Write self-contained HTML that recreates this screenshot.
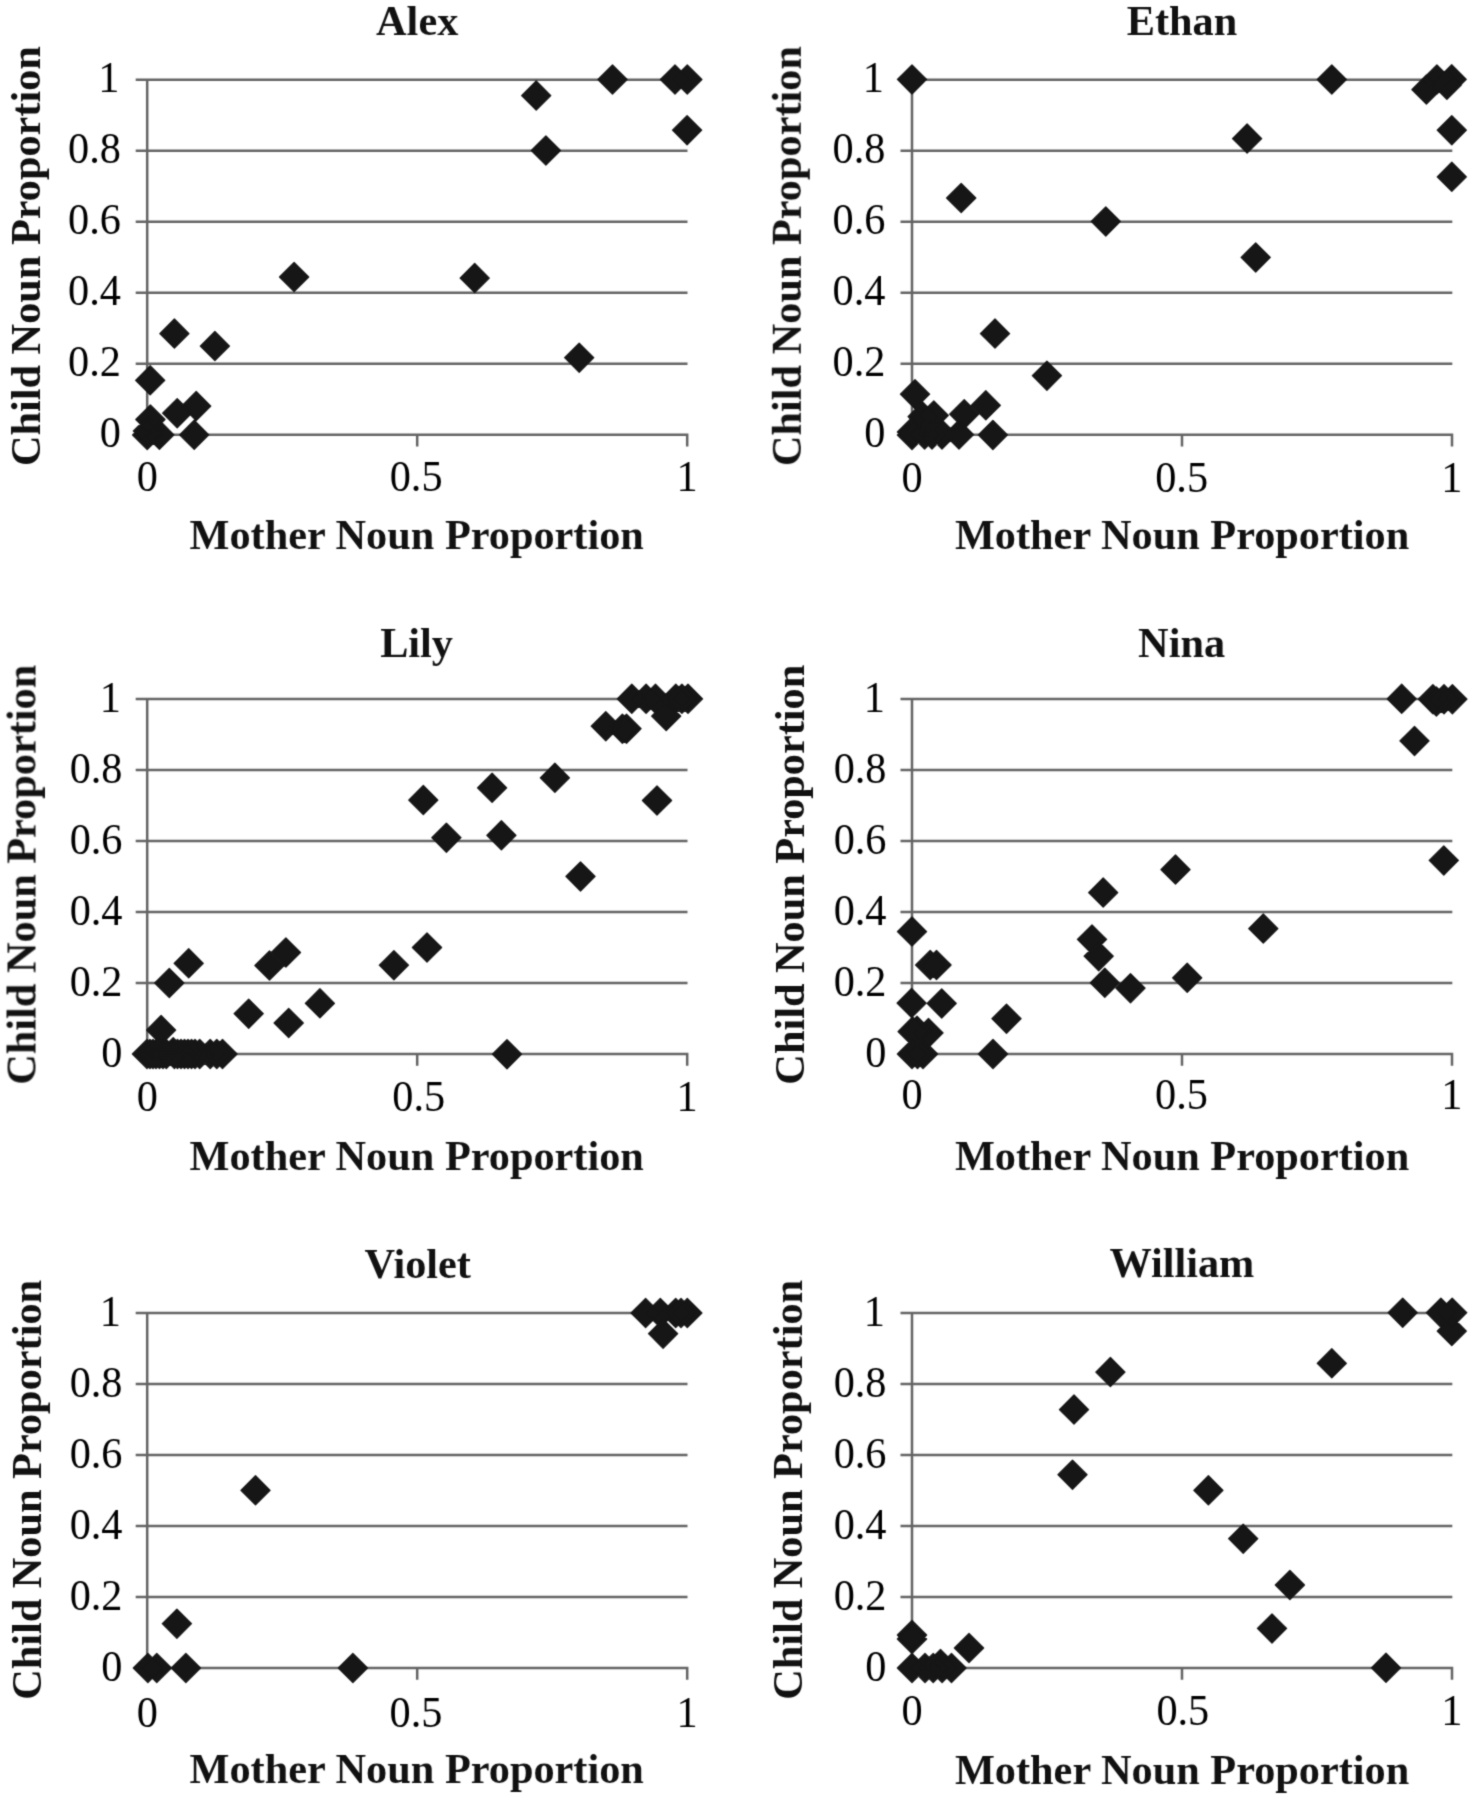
<!DOCTYPE html><html><head><meta charset="utf-8"><title>Noun proportion scatter plots</title>
<style>html,body{margin:0;padding:0;background:#fff;}svg{display:block;}.b{font-family:"Liberation Serif",serif;font-weight:bold;fill:#111;font-size:42.3px;}.r{font-family:"Liberation Serif",serif;fill:#000;font-size:45px;}</style></head><body>
<svg width="1474" height="1800" viewBox="0 0 1474 1800">
<defs><filter id="soft" filterUnits="userSpaceOnUse" x="0" y="0" width="1474" height="1800" color-interpolation-filters="sRGB"><feConvolveMatrix order="3" kernelMatrix="0.02756 0.11089 0.02756 0.11089 0.44622 0.11089 0.02756 0.11089 0.02756" edgeMode="duplicate"/></filter></defs>
<rect width="1474" height="1800" fill="#fff"/>
<g filter="url(#soft)">
<path d="M135.7 363.8H687.5M135.7 292.8H687.5M135.7 221.8H687.5M135.7 150.8H687.5M135.7 79.8H687.5M135.7 434.8H688.45M147.2 78.55V434.8M147.2 433.55V446.6M417.2 433.55V446.6M687.2 433.55V446.6" stroke="#646464" stroke-width="2.5" fill="none" stroke-linecap="butt"/>
<path d="M147.2 420.4L161.8 435L147.2 449.6L132.6 435ZM150.4 404.9L165 419.5L150.4 434.1L135.8 419.5ZM159.4 420.2L174 434.8L159.4 449.4L144.8 434.8ZM148 416.4L162.6 431L148 445.6L133.4 431ZM150.2 365.7L164.8 380.3L150.2 394.9L135.6 380.3ZM174.4 319L189 333.6L174.4 348.2L159.8 333.6ZM177.2 398.6L191.8 413.2L177.2 427.8L162.6 413.2ZM196.2 391.5L210.8 406.1L196.2 420.7L181.6 406.1ZM194.2 420.2L208.8 434.8L194.2 449.4L179.6 434.8ZM214.9 331.5L229.5 346.1L214.9 360.7L200.3 346.1ZM294.1 262.4L308.7 277L294.1 291.6L279.5 277ZM474.7 263.5L489.3 278.1L474.7 292.7L460.1 278.1ZM579.2 343.1L593.8 357.7L579.2 372.3L564.6 357.7ZM536.2 81L550.8 95.6L536.2 110.2L521.6 95.6ZM545.9 135.9L560.5 150.5L545.9 165.1L531.3 150.5ZM612.5 64.9L627.1 79.5L612.5 94.1L597.9 79.5ZM675 64.9L689.6 79.5L675 94.1L660.4 79.5ZM687.3 64.9L701.9 79.5L687.3 94.1L672.7 79.5ZM687.1 115.6L701.7 130.2L687.1 144.8L672.5 130.2Z" fill="#161616" stroke="#161616" stroke-width="1.2" stroke-linejoin="round"/>
<text class="b" x="417.2" y="35.4" text-anchor="middle">Alex</text>
<text class="r" transform="translate(120.9 447.4) scale(0.94 1)" text-anchor="end">0</text>
<text class="r" transform="translate(120.9 376.4) scale(0.94 1)" text-anchor="end">0.2</text>
<text class="r" transform="translate(120.9 305.4) scale(0.94 1)" text-anchor="end">0.4</text>
<text class="r" transform="translate(120.9 234.4) scale(0.94 1)" text-anchor="end">0.6</text>
<text class="r" transform="translate(120.9 163.4) scale(0.94 1)" text-anchor="end">0.8</text>
<text class="r" transform="translate(119.4 92.4) scale(0.94 1)" text-anchor="end">1</text>
<text class="r" transform="translate(147.2 490.5) scale(0.94 1)" text-anchor="middle">0</text>
<text class="r" transform="translate(416.1 490.5) scale(0.94 1)" text-anchor="middle">0.5</text>
<text class="r" transform="translate(687 490.5) scale(0.94 1)" text-anchor="middle">1</text>
<text class="b" x="416.7" y="548.5" text-anchor="middle">Mother Noun Proportion</text>
<text class="b" transform="translate(39.5 256.1) rotate(-90)" text-anchor="middle">Child Noun Proportion</text>
<path d="M900.5 363.8H1452.3M900.5 292.8H1452.3M900.5 221.8H1452.3M900.5 150.8H1452.3M900.5 79.8H1452.3M900.5 434.8H1453.25M912 78.55V434.8M912 433.55V446.6M1182 433.55V446.6M1452 433.55V446.6" stroke="#646464" stroke-width="2.5" fill="none" stroke-linecap="butt"/>
<path d="M912 420.4L926.6 435L912 449.6L897.4 435ZM912 417.4L926.6 432L912 446.6L897.4 432ZM915 379.6L929.6 394.2L915 408.8L900.4 394.2ZM922.6 402L937.2 416.6L922.6 431.2L908 416.6ZM924.6 419.9L939.2 434.5L924.6 449.1L910 434.5ZM932 419.9L946.6 434.5L932 449.1L917.4 434.5ZM942 419.9L956.6 434.5L942 449.1L927.4 434.5ZM933.8 400.8L948.4 415.4L933.8 430L919.2 415.4ZM959 420L973.6 434.6L959 449.2L944.4 434.6ZM964.2 399.6L978.8 414.2L964.2 428.8L949.6 414.2ZM985.8 390.7L1000.4 405.3L985.8 419.9L971.2 405.3ZM992.9 420.3L1007.5 434.9L992.9 449.5L978.3 434.9ZM995 319L1009.6 333.6L995 348.2L980.4 333.6ZM1046.9 361.1L1061.5 375.7L1046.9 390.3L1032.3 375.7ZM912 64.8L926.6 79.4L912 94L897.4 79.4ZM961.2 183.4L975.8 198L961.2 212.6L946.6 198ZM1105.8 206.8L1120.4 221.4L1105.8 236L1091.2 221.4ZM1247.1 124L1261.7 138.6L1247.1 153.2L1232.5 138.6ZM1331.8 64.9L1346.4 79.5L1331.8 94.1L1317.2 79.5ZM1426.4 75L1441 89.6L1426.4 104.2L1411.8 89.6ZM1436.9 64.8L1451.5 79.4L1436.9 94L1422.3 79.4ZM1451.7 64.7L1466.3 79.3L1451.7 93.9L1437.1 79.3ZM1446.9 70.2L1461.5 84.8L1446.9 99.4L1432.3 84.8ZM1451.8 115.6L1466.4 130.2L1451.8 144.8L1437.2 130.2ZM1451.8 162.2L1466.4 176.8L1451.8 191.4L1437.2 176.8ZM1255.7 242.8L1270.3 257.4L1255.7 272L1241.1 257.4Z" fill="#161616" stroke="#161616" stroke-width="1.2" stroke-linejoin="round"/>
<text class="b" x="1182" y="35.3" text-anchor="middle">Ethan</text>
<text class="r" transform="translate(885.4 447.4) scale(0.94 1)" text-anchor="end">0</text>
<text class="r" transform="translate(885.4 376.4) scale(0.94 1)" text-anchor="end">0.2</text>
<text class="r" transform="translate(885.4 305.4) scale(0.94 1)" text-anchor="end">0.4</text>
<text class="r" transform="translate(885.4 234.4) scale(0.94 1)" text-anchor="end">0.6</text>
<text class="r" transform="translate(885.4 163.4) scale(0.94 1)" text-anchor="end">0.8</text>
<text class="r" transform="translate(883.9 92.4) scale(0.94 1)" text-anchor="end">1</text>
<text class="r" transform="translate(912 491.5) scale(0.94 1)" text-anchor="middle">0</text>
<text class="r" transform="translate(1181.6 491.5) scale(0.94 1)" text-anchor="middle">0.5</text>
<text class="r" transform="translate(1451.8 491.5) scale(0.94 1)" text-anchor="middle">1</text>
<text class="b" x="1182.1" y="548.5" text-anchor="middle">Mother Noun Proportion</text>
<text class="b" transform="translate(800.8 256.1) rotate(-90)" text-anchor="middle">Child Noun Proportion</text>
<path d="M135.7 983H687.5M135.7 912H687.5M135.7 841H687.5M135.7 770H687.5M135.7 699H687.5M135.7 1054H688.45M147.2 697.75V1054M147.2 1052.75V1065.8M417.2 1052.75V1065.8M687.2 1052.75V1065.8" stroke="#646464" stroke-width="2.5" fill="none" stroke-linecap="butt"/>
<path d="M147 1039.4L161.6 1054L147 1068.6L132.4 1054ZM150 1039.4L164.6 1054L150 1068.6L135.4 1054ZM153 1039.4L167.6 1054L153 1068.6L138.4 1054ZM156 1039.4L170.6 1054L156 1068.6L141.4 1054ZM159.5 1039.4L174.1 1054L159.5 1068.6L144.9 1054ZM163 1039.4L177.6 1054L163 1068.6L148.4 1054ZM166.3 1039.4L180.9 1054L166.3 1068.6L151.7 1054ZM173.2 1037.6L187.8 1052.2L173.2 1066.8L158.6 1052.2ZM174.4 1039.4L189 1054L174.4 1068.6L159.8 1054ZM177.5 1039.4L192.1 1054L177.5 1068.6L162.9 1054ZM181 1039.4L195.6 1054L181 1068.6L166.4 1054ZM184.5 1039.4L199.1 1054L184.5 1068.6L169.9 1054ZM188 1039.4L202.6 1054L188 1068.6L173.4 1054ZM191.5 1039.4L206.1 1054L191.5 1068.6L176.9 1054ZM195 1039.4L209.6 1054L195 1068.6L180.4 1054ZM199.7 1039.4L214.3 1054L199.7 1068.6L185.1 1054ZM210.2 1039.4L224.8 1054L210.2 1068.6L195.6 1054ZM216.8 1039.4L231.4 1054L216.8 1068.6L202.2 1054ZM222.5 1039.4L237.1 1054L222.5 1068.6L207.9 1054ZM161.1 1015.5L175.7 1030.1L161.1 1044.7L146.5 1030.1ZM169.3 968.4L183.9 983L169.3 997.6L154.7 983ZM188.7 948.7L203.3 963.3L188.7 977.9L174.1 963.3ZM248.7 999.1L263.3 1013.7L248.7 1028.3L234.1 1013.7ZM288.7 1008.4L303.3 1023L288.7 1037.6L274.1 1023ZM319.9 988.7L334.5 1003.3L319.9 1017.9L305.3 1003.3ZM269.5 950.9L284.1 965.5L269.5 980.1L254.9 965.5ZM285.9 937.9L300.5 952.5L285.9 967.1L271.3 952.5ZM393.9 950.6L408.5 965.2L393.9 979.8L379.3 965.2ZM427 932.9L441.6 947.5L427 962.1L412.4 947.5ZM507 1039.6L521.6 1054.2L507 1068.8L492.4 1054.2ZM423.3 785.5L437.9 800.1L423.3 814.7L408.7 800.1ZM446.4 823.1L461 837.7L446.4 852.3L431.8 837.7ZM492.1 773.2L506.7 787.8L492.1 802.4L477.5 787.8ZM501.4 820.7L516 835.3L501.4 849.9L486.8 835.3ZM554.9 763.2L569.5 777.8L554.9 792.4L540.3 777.8ZM580.5 861.8L595.1 876.4L580.5 891L565.9 876.4ZM605.8 711.6L620.4 726.2L605.8 740.8L591.2 726.2ZM622.4 714.1L637 728.7L622.4 743.3L607.8 728.7ZM626.5 714.1L641.1 728.7L626.5 743.3L611.9 728.7ZM657 785.9L671.6 800.5L657 815.1L642.4 800.5ZM666.2 701.5L680.8 716.1L666.2 730.7L651.6 716.1ZM631.8 684.2L646.4 698.8L631.8 713.4L617.2 698.8ZM646.1 684.2L660.7 698.8L646.1 713.4L631.5 698.8ZM655.5 684.2L670.1 698.8L655.5 713.4L640.9 698.8ZM675.8 684.2L690.4 698.8L675.8 713.4L661.2 698.8ZM681.9 684.2L696.5 698.8L681.9 713.4L667.3 698.8ZM688 684.2L702.6 698.8L688 713.4L673.4 698.8Z" fill="#161616" stroke="#161616" stroke-width="1.2" stroke-linejoin="round"/>
<text class="b" x="416.6" y="656.8" text-anchor="middle">Lily</text>
<text class="r" transform="translate(122.5 1067.2) scale(0.94 1)" text-anchor="end">0</text>
<text class="r" transform="translate(122.5 996.2) scale(0.94 1)" text-anchor="end">0.2</text>
<text class="r" transform="translate(122.5 925.2) scale(0.94 1)" text-anchor="end">0.4</text>
<text class="r" transform="translate(122.5 854.2) scale(0.94 1)" text-anchor="end">0.6</text>
<text class="r" transform="translate(122.5 783.2) scale(0.94 1)" text-anchor="end">0.8</text>
<text class="r" transform="translate(121 712.2) scale(0.94 1)" text-anchor="end">1</text>
<text class="r" transform="translate(147.2 1110.5) scale(0.94 1)" text-anchor="middle">0</text>
<text class="r" transform="translate(418.7 1110.5) scale(0.94 1)" text-anchor="middle">0.5</text>
<text class="r" transform="translate(687 1110.5) scale(0.94 1)" text-anchor="middle">1</text>
<text class="b" x="416.7" y="1169.5" text-anchor="middle">Mother Noun Proportion</text>
<text class="b" transform="translate(35.5 874.7) rotate(-90)" text-anchor="middle">Child Noun Proportion</text>
<path d="M900.5 983H1452.3M900.5 912H1452.3M900.5 841H1452.3M900.5 770H1452.3M900.5 699H1452.3M900.5 1054H1453.25M912 697.75V1054M912 1052.75V1065.8M1182 1052.75V1065.8M1452 1052.75V1065.8" stroke="#646464" stroke-width="2.5" fill="none" stroke-linecap="butt"/>
<path d="M912 917L926.6 931.6L912 946.2L897.4 931.6ZM930.2 950.4L944.8 965L930.2 979.6L915.6 965ZM936.5 950.4L951.1 965L936.5 979.6L921.9 965ZM911.6 988.5L926.2 1003.1L911.6 1017.7L897 1003.1ZM941.7 988.8L956.3 1003.4L941.7 1018L927.1 1003.4ZM1006.5 1004.1L1021.1 1018.7L1006.5 1033.3L991.9 1018.7ZM993 1039.4L1007.6 1054L993 1068.6L978.4 1054ZM912 1039.4L926.6 1054L912 1068.6L897.4 1054ZM917.5 1039.4L932.1 1054L917.5 1068.6L902.9 1054ZM923 1039.4L937.6 1054L923 1068.6L908.4 1054ZM912.6 1017L927.2 1031.6L912.6 1046.2L898 1031.6ZM917 1016.2L931.6 1030.8L917 1045.4L902.4 1030.8ZM928.5 1018.3L943.1 1032.9L928.5 1047.5L913.9 1032.9ZM1175.5 855L1190.1 869.6L1175.5 884.2L1160.9 869.6ZM1103.2 878L1117.8 892.6L1103.2 907.2L1088.6 892.6ZM1263.3 914L1277.9 928.6L1263.3 943.2L1248.7 928.6ZM1092 924.8L1106.6 939.4L1092 954L1077.4 939.4ZM1098.7 941.6L1113.3 956.2L1098.7 970.8L1084.1 956.2ZM1104.8 968.2L1119.4 982.8L1104.8 997.4L1090.2 982.8ZM1130.5 973.6L1145.1 988.2L1130.5 1002.8L1115.9 988.2ZM1187.2 963.2L1201.8 977.8L1187.2 992.4L1172.6 977.8ZM1401.7 684.2L1416.3 698.8L1401.7 713.4L1387.1 698.8ZM1432.9 684.6L1447.5 699.2L1432.9 713.8L1418.3 699.2ZM1436.4 686.9L1451 701.5L1436.4 716.1L1421.8 701.5ZM1444 684.6L1458.6 699.2L1444 713.8L1429.4 699.2ZM1452.4 684.6L1467 699.2L1452.4 713.8L1437.8 699.2ZM1414.5 726.3L1429.1 740.9L1414.5 755.5L1399.9 740.9ZM1443.8 845.8L1458.4 860.4L1443.8 875L1429.2 860.4Z" fill="#161616" stroke="#161616" stroke-width="1.2" stroke-linejoin="round"/>
<text class="b" x="1181.6" y="656.7" text-anchor="middle">Nina</text>
<text class="r" transform="translate(886.5 1067.2) scale(0.94 1)" text-anchor="end">0</text>
<text class="r" transform="translate(886.5 996.2) scale(0.94 1)" text-anchor="end">0.2</text>
<text class="r" transform="translate(886.5 925.2) scale(0.94 1)" text-anchor="end">0.4</text>
<text class="r" transform="translate(886.5 854.2) scale(0.94 1)" text-anchor="end">0.6</text>
<text class="r" transform="translate(886.5 783.2) scale(0.94 1)" text-anchor="end">0.8</text>
<text class="r" transform="translate(885 712.2) scale(0.94 1)" text-anchor="end">1</text>
<text class="r" transform="translate(912 1108.7) scale(0.94 1)" text-anchor="middle">0</text>
<text class="r" transform="translate(1181.5 1108.7) scale(0.94 1)" text-anchor="middle">0.5</text>
<text class="r" transform="translate(1451.8 1108.7) scale(0.94 1)" text-anchor="middle">1</text>
<text class="b" x="1182.1" y="1169.5" text-anchor="middle">Mother Noun Proportion</text>
<text class="b" transform="translate(803.6 874.7) rotate(-90)" text-anchor="middle">Child Noun Proportion</text>
<path d="M135.7 1597H687.5M135.7 1526H687.5M135.7 1455H687.5M135.7 1384H687.5M135.7 1313H687.5M135.7 1668H688.45M147.2 1311.75V1668M147.2 1666.75V1679.8M417.2 1666.75V1679.8M687.2 1666.75V1679.8" stroke="#646464" stroke-width="2.5" fill="none" stroke-linecap="butt"/>
<path d="M645.6 1298.4L660.2 1313L645.6 1327.6L631 1313ZM660.3 1298.4L674.9 1313L660.3 1327.6L645.7 1313ZM675.7 1298.4L690.3 1313L675.7 1327.6L661.1 1313ZM681 1298.4L695.6 1313L681 1327.6L666.4 1313ZM687.3 1298.4L701.9 1313L687.3 1327.6L672.7 1313ZM663.1 1319.1L677.7 1333.7L663.1 1348.3L648.5 1333.7ZM255.5 1475.7L270.1 1490.3L255.5 1504.9L240.9 1490.3ZM176.9 1609.1L191.5 1623.7L176.9 1638.3L162.3 1623.7ZM147.9 1653.4L162.5 1668L147.9 1682.6L133.3 1668ZM156.8 1653.4L171.4 1668L156.8 1682.6L142.2 1668ZM185.9 1653.4L200.5 1668L185.9 1682.6L171.3 1668ZM352.9 1653.4L367.5 1668L352.9 1682.6L338.3 1668Z" fill="#161616" stroke="#161616" stroke-width="1.2" stroke-linejoin="round"/>
<text class="b" x="417.7" y="1277.5" text-anchor="middle">Violet</text>
<text class="r" transform="translate(122.5 1680.6) scale(0.94 1)" text-anchor="end">0</text>
<text class="r" transform="translate(122.5 1609.6) scale(0.94 1)" text-anchor="end">0.2</text>
<text class="r" transform="translate(122.5 1538.6) scale(0.94 1)" text-anchor="end">0.4</text>
<text class="r" transform="translate(122.5 1467.6) scale(0.94 1)" text-anchor="end">0.6</text>
<text class="r" transform="translate(122.5 1396.6) scale(0.94 1)" text-anchor="end">0.8</text>
<text class="r" transform="translate(121 1325.6) scale(0.94 1)" text-anchor="end">1</text>
<text class="r" transform="translate(147.2 1726.5) scale(0.94 1)" text-anchor="middle">0</text>
<text class="r" transform="translate(416 1726.5) scale(0.94 1)" text-anchor="middle">0.5</text>
<text class="r" transform="translate(687 1726.5) scale(0.94 1)" text-anchor="middle">1</text>
<text class="b" x="416.7" y="1783.3" text-anchor="middle">Mother Noun Proportion</text>
<text class="b" transform="translate(40.5 1489.9) rotate(-90)" text-anchor="middle">Child Noun Proportion</text>
<path d="M900.5 1597H1452.3M900.5 1526H1452.3M900.5 1455H1452.3M900.5 1384H1452.3M900.5 1313H1452.3M900.5 1668H1453.25M912 1311.75V1668M912 1666.75V1679.8M1182 1666.75V1679.8M1452 1666.75V1679.8" stroke="#646464" stroke-width="2.5" fill="none" stroke-linecap="butt"/>
<path d="M912 1620.4L926.6 1635L912 1649.6L897.4 1635ZM912 1624.4L926.6 1639L912 1653.6L897.4 1639ZM969 1633.4L983.6 1648L969 1662.6L954.4 1648ZM912 1653.4L926.6 1668L912 1682.6L897.4 1668ZM925 1653.4L939.6 1668L925 1682.6L910.4 1668ZM933.2 1653.4L947.8 1668L933.2 1682.6L918.6 1668ZM940.5 1649.4L955.1 1664L940.5 1678.6L925.9 1664ZM942.1 1653.4L956.7 1668L942.1 1682.6L927.5 1668ZM951.5 1653.4L966.1 1668L951.5 1682.6L936.9 1668ZM1110.4 1357.5L1125 1372.1L1110.4 1386.7L1095.8 1372.1ZM1074 1395L1088.6 1409.6L1074 1424.2L1059.4 1409.6ZM1072.5 1460.1L1087.1 1474.7L1072.5 1489.3L1057.9 1474.7ZM1208.4 1475.7L1223 1490.3L1208.4 1504.9L1193.8 1490.3ZM1243.2 1524.1L1257.8 1538.7L1243.2 1553.3L1228.6 1538.7ZM1289.9 1570.4L1304.5 1585L1289.9 1599.6L1275.3 1585ZM1272 1613.8L1286.6 1628.4L1272 1643L1257.4 1628.4ZM1402.7 1298.1L1417.3 1312.7L1402.7 1327.3L1388.1 1312.7ZM1440.9 1298.1L1455.5 1312.7L1440.9 1327.3L1426.3 1312.7ZM1452.2 1298.1L1466.8 1312.7L1452.2 1327.3L1437.6 1312.7ZM1451.8 1316.5L1466.4 1331.1L1451.8 1345.7L1437.2 1331.1ZM1331.8 1348.7L1346.4 1363.3L1331.8 1377.9L1317.2 1363.3ZM1386 1653.2L1400.6 1667.8L1386 1682.4L1371.4 1667.8Z" fill="#161616" stroke="#161616" stroke-width="1.2" stroke-linejoin="round"/>
<text class="b" x="1181.9" y="1277" text-anchor="middle">William</text>
<text class="r" transform="translate(886.5 1680.6) scale(0.94 1)" text-anchor="end">0</text>
<text class="r" transform="translate(886.5 1609.6) scale(0.94 1)" text-anchor="end">0.2</text>
<text class="r" transform="translate(886.5 1538.6) scale(0.94 1)" text-anchor="end">0.4</text>
<text class="r" transform="translate(886.5 1467.6) scale(0.94 1)" text-anchor="end">0.6</text>
<text class="r" transform="translate(886.5 1396.6) scale(0.94 1)" text-anchor="end">0.8</text>
<text class="r" transform="translate(885 1325.6) scale(0.94 1)" text-anchor="end">1</text>
<text class="r" transform="translate(912 1725) scale(0.94 1)" text-anchor="middle">0</text>
<text class="r" transform="translate(1182.8 1725) scale(0.94 1)" text-anchor="middle">0.5</text>
<text class="r" transform="translate(1451.8 1725) scale(0.94 1)" text-anchor="middle">1</text>
<text class="b" x="1182.1" y="1784.3" text-anchor="middle">Mother Noun Proportion</text>
<text class="b" transform="translate(802.2 1489.9) rotate(-90)" text-anchor="middle">Child Noun Proportion</text>
</g></svg></body></html>
